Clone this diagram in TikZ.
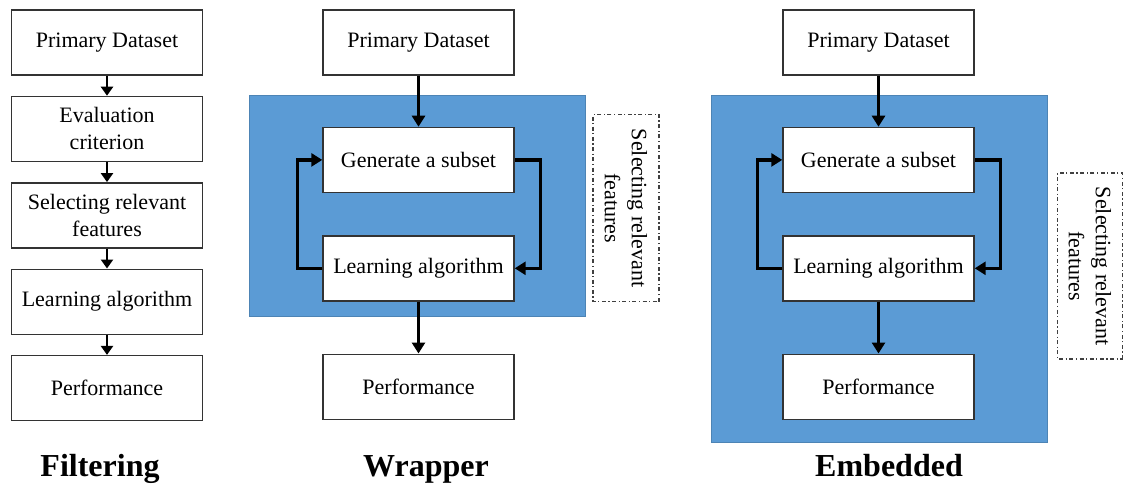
\documentclass[tikz,border=0pt]{standalone}
\usepackage{fontspec}
\setmainfont{Liberation Serif}
\usepackage{xcolor}
\usetikzlibrary{arrows.meta, positioning, calc}
\definecolor{panelblue}{HTML}{5B9BD5}

\tikzset{
  stage/.style={draw=black!80, line width=1.4pt, fill=white,
    minimum width=191pt, minimum height=65pt, inner sep=2pt,
    align=center, font=\fontsize{22}{27}\selectfont},
  flow/.style={-{Triangle[length=11pt,width=13pt]}, line width=3.4pt},
  smallflow/.style={-{Triangle[length=9pt,width=12pt]}, line width=2.6pt},
  panel/.style={fill=panelblue, draw=panelblue!85!black, line width=1pt},
  selbox/.style={draw=black!75, line width=1.4pt,
    dash pattern=on 4pt off 2.5pt on 1.2pt off 2.5pt,
    rotate=-90, align=center, inner sep=0pt,
    font=\fontsize{22}{27}\selectfont},
  title/.style={anchor=base, font=\fontsize{32}{34}\selectfont\bfseries}
}

\begin{document}
\begin{tikzpicture}[x=1pt, y=-1pt]
\useasboundingbox (0,0) rectangle (1124,483);

% blue panels
\path[panel] (249,95) rectangle (585,316);
\path[panel] (711,95) rectangle (1047,442);

% Filtering
\node (FPD) [stage] at (107,42.5) {Primary Dataset};
\node (FEC) [stage, below=20pt of FPD] {Evaluation\\criterion};
\node (FSR) [stage, below=20pt of FEC] {Selecting relevant\\features};
\node (FLA) [stage, below=20pt of FSR] {Learning algorithm};
\node (FPF) [stage, below=20pt of FLA] {Performance};

\path[smallflow] (FPD) edge (FEC);
\path[smallflow] (FEC) edge (FSR);
\path[smallflow] (FSR) edge (FLA);
\path[smallflow] (FLA) edge (FPF);

% Wrapper
\node (WPD) [stage] at (418.5,42.5) {Primary Dataset};
\node (WGS) [stage, below=51pt of WPD] {Generate a subset};
\node (WLA) [stage, below=42pt of WGS] {Learning algorithm};
\node (WPF) [stage, below=52pt of WLA] {Performance};
\node (WSel) [selbox, minimum width=187pt, minimum height=66pt] at (626,208)
  {Selecting relevant\\features};

\path[flow] (WPD) edge (WGS);
\path[flow] (WLA) edge (WPF);
\draw[flow] (WLA.west) -- ++(-25,0) |- (WGS.west);
\draw[flow] (WGS.east) -- ++(26,0) |- (WLA.east);

% Embedded
\node (EPD) [stage] at (878.5,42.5) {Primary Dataset};
\node (EGS) [stage, below=51pt of EPD] {Generate a subset};
\node (ELA) [stage, below=42pt of EGS] {Learning algorithm};
\node (EPF) [stage, below=52pt of ELA] {Performance};
\node (ESel) [selbox, minimum width=186pt, minimum height=65pt] at (1090,266)
  {Selecting relevant\\features};

\path[flow] (EPD) edge (EGS);
\path[flow] (ELA) edge (EPF);
\draw[flow] (ELA.west) -- ++(-25,0) |- (EGS.west);
\draw[flow] (EGS.east) -- ++(26,0) |- (ELA.east);

% titles
\node (TF) [title] at (100,476) {Filtering};
\node (TW) [title] at (426,476) {Wrapper};
\node (TE) [title] at (889,476) {Embedded};
\end{tikzpicture}
\end{document}
